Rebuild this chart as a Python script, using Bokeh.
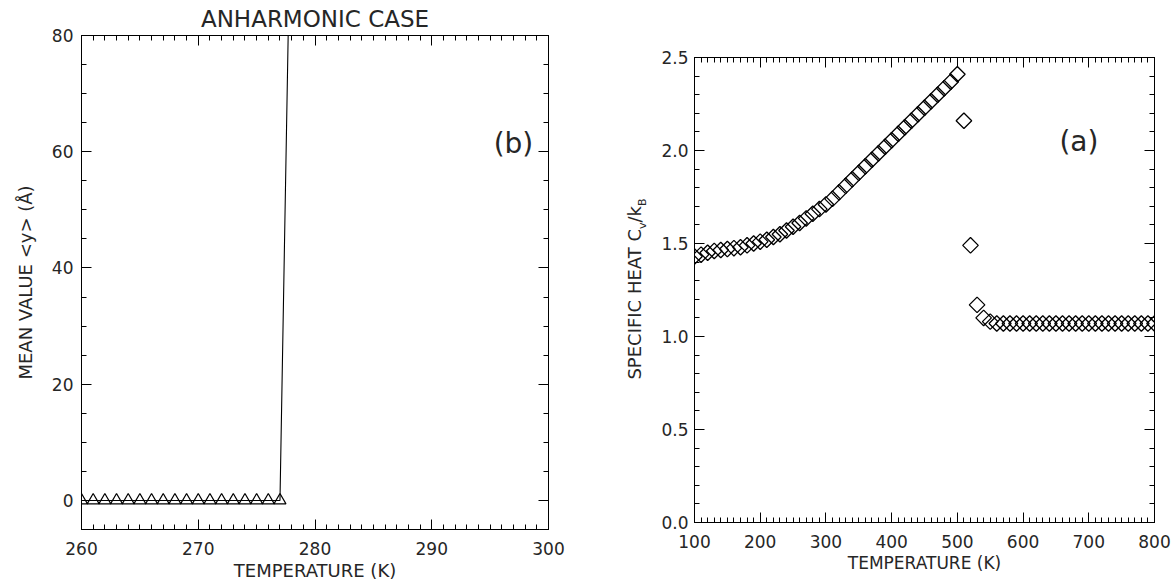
import numpy as np
from bokeh.plotting import figure
from bokeh.layouts import row, column
from bokeh.models import (LinearAxis, SingleIntervalTicker, Label, Range1d, Div,
                          NumeralTickFormatter)
from bokeh.embed import file_html
from bokeh.resources import INLINE

# ---------------- data: panel (b) anharmonic case ----------------
temp_b = [260, 261, 262, 263, 264, 265, 266, 267, 268, 269, 270, 271, 272,
          273, 274, 275, 276, 277, 278]
mean_y = [0, 0, 0, 0, 0, 0, 0, 0, 0, 0, 0, 0, 0, 0, 0, 0, 0, 0, 114]

# ---------------- data: panel (a) specific heat ----------------
temp_a = [100, 110, 120, 130, 140, 150, 160, 170, 180, 190,
          200, 210, 220, 230, 240, 250, 260, 270, 280, 290,
          300, 310, 320, 330, 340, 350, 360, 370, 380, 390,
          400, 410, 420, 430, 440, 450, 460, 470, 480, 490,
          500, 510, 520, 530, 540, 550, 560, 570, 580, 590,
          600, 610, 620, 630, 640, 650, 660, 670, 680, 690,
          700, 710, 720, 730, 740, 750, 760, 770, 780, 790, 800]
cv = [1.43, 1.44, 1.45, 1.46, 1.465, 1.47, 1.475, 1.48, 1.49, 1.50,
      1.51, 1.52, 1.535, 1.55, 1.57, 1.59, 1.61, 1.635, 1.66, 1.685,
      1.71, 1.74, 1.775, 1.81, 1.845, 1.88, 1.915, 1.95, 1.985, 2.02,
      2.055, 2.09, 2.125, 2.16, 2.195, 2.23, 2.265, 2.30, 2.335, 2.37,
      2.41, 2.16, 1.49, 1.17, 1.10, 1.08, 1.07, 1.07, 1.07, 1.07,
      1.07, 1.07, 1.07, 1.07, 1.07, 1.07, 1.07, 1.07, 1.07, 1.07,
      1.07, 1.07, 1.07, 1.07, 1.07, 1.07, 1.07, 1.07, 1.07, 1.07, 1.07]

FONT = "DejaVu Sans"
TXT = "#262626"


def style_axis(ax, labels=True, size="17px", standoff=8, ticks=None):
    ax.major_tick_in = 10
    ax.major_tick_out = 0
    ax.minor_tick_in = 5
    ax.minor_tick_out = 0
    ax.axis_line_color = "black"
    ax.major_tick_line_color = "black"
    ax.minor_tick_line_color = "black"
    ax.major_label_text_font = FONT
    ax.major_label_text_color = TXT
    ax.axis_label_text_font = FONT
    ax.axis_label_text_color = TXT
    ax.axis_label_text_font_style = "normal"
    if labels:
        ax.major_label_text_font_size = size
        ax.major_label_standoff = standoff
    else:
        ax.major_label_text_font_size = "1px"
        ax.major_label_standoff = 0
        ax.major_label_overrides = {t: "" for t in ticks}


# ---------------- left figure ----------------
p1 = figure(width=604, height=586, output_backend="svg", toolbar_location=None,
            x_range=Range1d(260, 300), y_range=Range1d(-5, 80),
            min_border_left=81, min_border_right=56, min_border_top=35,
            min_border_bottom=57)
p1.grid.visible = False
p1.outline_line_color = "black"
p1.background_fill_color = "white"
p1.border_fill_color = "white"
p1.title.text = "ANHARMONIC CASE"
p1.title.align = "center"
p1.title.text_font = FONT
p1.title.text_font_size = "23px"
p1.title.text_font_style = "normal"
p1.title.text_color = TXT
p1.title.offset = 0
p1.title.standoff = 7

p1.xaxis.ticker = SingleIntervalTicker(interval=10, num_minor_ticks=10)
p1.yaxis.ticker = SingleIntervalTicker(interval=20, num_minor_ticks=4)
p1.xaxis.axis_label = "TEMPERATURE (K)"
p1.yaxis.axis_label = "MEAN VALUE <y> (Å)"
style_axis(p1.xaxis[0], standoff=12)
style_axis(p1.yaxis[0], standoff=8)
p1.xaxis.axis_label_text_font_size = "18px"
p1.yaxis.axis_label_text_font_size = "18px"
p1.xaxis.axis_label_standoff = 2
p1.yaxis.axis_label_standoff = 13

ax_top1 = LinearAxis(ticker=SingleIntervalTicker(interval=10, num_minor_ticks=10))
ax_right1 = LinearAxis(ticker=SingleIntervalTicker(interval=20, num_minor_ticks=4))
style_axis(ax_top1, labels=False, ticks=[260, 270, 280, 290, 300])
style_axis(ax_right1, labels=False, ticks=[0, 20, 40, 60, 80])
p1.add_layout(ax_top1, "above")
p1.add_layout(ax_right1, "right")

p1.line(temp_b, mean_y, line_color="black", line_width=1.1)
p1.scatter(temp_b, mean_y, marker="triangle", size=12, fill_color=None,
           line_color="black", line_width=1.2)

p1.add_layout(Label(x=297, y=61.5, text="(b)", text_align="center",
                    text_baseline="middle", text_font=FONT,
                    text_font_size="28px", text_color=TXT))

# ---------------- y-axis title of right panel (with subscripts) ----------------
ylab = Div(
    text=('<div style="position:absolute; left:33px; top:289px; '
          'transform: translate(-50%,-50%) rotate(-90deg); white-space:nowrap; '
          "font-family:'DejaVu Sans'; font-size:18px; color:#262626; line-height:1;\">"
          'SPECIFIC HEAT C<sub style="font-size:11px">v</sub>/k'
          '<sub style="font-size:11px">B</sub></div>'),
    width=54, height=586, margin=0,
    styles={"position": "relative", "overflow": "visible"})

# ---------------- right figure ----------------
p2 = figure(width=514, height=586, output_backend="svg", toolbar_location=None,
            x_range=Range1d(100, 800), y_range=Range1d(0, 2.5),
            min_border_left=34, min_border_right=18, min_border_top=57,
            min_border_bottom=64)
p2.grid.visible = False
p2.outline_line_color = "black"
p2.background_fill_color = "white"
p2.border_fill_color = "white"

p2.xaxis.ticker = SingleIntervalTicker(interval=100, num_minor_ticks=10)
p2.yaxis.ticker = SingleIntervalTicker(interval=0.5, num_minor_ticks=5)
p2.yaxis.formatter = NumeralTickFormatter(format="0.0")
p2.xaxis.axis_label = "TEMPERATURE (K)"
style_axis(p2.xaxis[0], standoff=12)
style_axis(p2.yaxis[0], standoff=6)
p2.xaxis.axis_label_text_font_size = "17px"
p2.xaxis.axis_label_standoff = 2

ax_top2 = LinearAxis(ticker=SingleIntervalTicker(interval=100, num_minor_ticks=10))
ax_right2 = LinearAxis(ticker=SingleIntervalTicker(interval=0.5, num_minor_ticks=5))
style_axis(ax_top2, labels=False, ticks=[100, 200, 300, 400, 500, 600, 700, 800])
style_axis(ax_right2, labels=False, ticks=[0, 0.5, 1, 1.5, 2, 2.5])
p2.add_layout(ax_top2, "above")
p2.add_layout(ax_right2, "right")

p2.scatter(temp_a, cv, marker="square", angle=np.pi / 4, size=11,
           fill_color=None, line_color="black", line_width=1.3)

p2.add_layout(Label(x=685, y=2.05, text="(a)", text_align="center",
                    text_baseline="middle", text_font=FONT,
                    text_font_size="28px", text_color=TXT))

layout = row(column(p1), ylab, column(p2))
open("out.html", "w").write(file_html(layout, INLINE))
